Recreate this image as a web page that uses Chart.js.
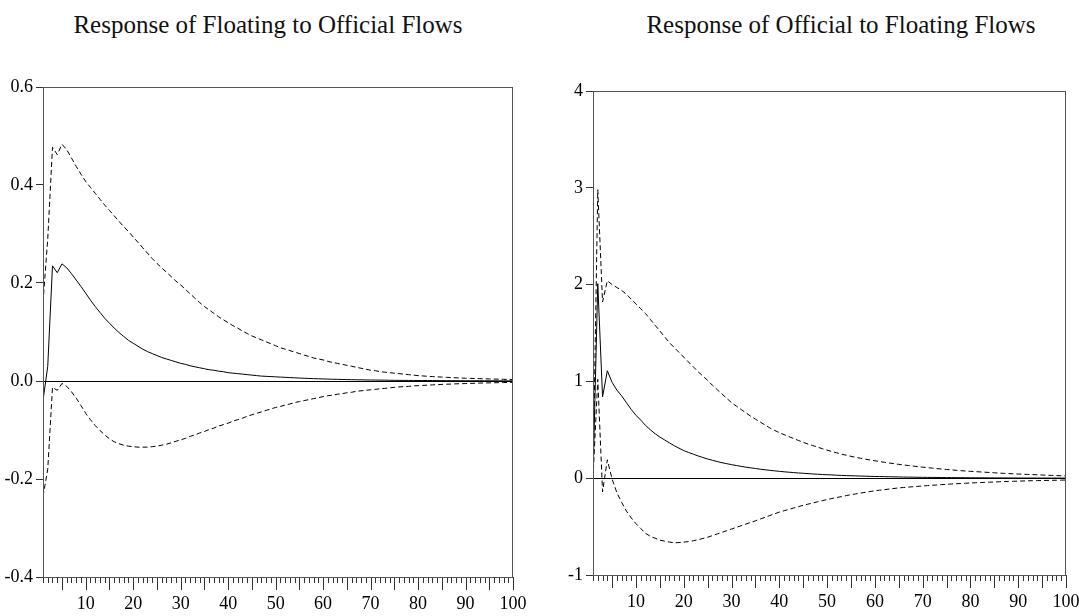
<!DOCTYPE html>
<html>
<head>
<meta charset="utf-8">
<script src="https://cdn.jsdelivr.net/npm/chart.js@4.4.1/dist/chart.umd.min.js"></script>
<style>
  html,body{margin:0;padding:0;background:#fff;}
  body{width:1079px;height:616px;position:relative;overflow:hidden;}
  canvas{position:absolute;top:0;}
  .ttl{position:absolute;top:12px;font-family:"Liberation Serif","Times New Roman",serif;font-size:25px;line-height:25px;
       color:#111;white-space:nowrap;transform:translateX(-50%);}
</style>
</head>
<body>
<div class="ttl" style="left:268px">Response of Floating to Official Flows</div>
<div class="ttl" style="left:841px">Response of Official to Floating Flows</div>
<canvas id="c1" width="540" height="616" style="left:0"></canvas>
<canvas id="c2" width="539" height="616" style="left:540px"></canvas>
<script>
// forecast horizon (periods)
const periods = [
  1,2,3,4,5,6,7,8,9,10,11,12,13,14,15,16,17,18,19,20,
  21,22,23,24,25,26,27,28,29,30,31,32,33,34,35,36,37,38,39,40,
  41,42,43,44,45,46,47,48,49,50,51,52,53,54,55,56,57,58,59,60,
  61,62,63,64,65,66,67,68,69,70,71,72,73,74,75,76,77,78,79,80,
  81,82,83,84,85,86,87,88,89,90,91,92,93,94,95,96,97,98,99,100];
const xLabels = [10,20,30,40,50,60,70,80,90,100];

// --- Response of Floating to Official Flows ---
const floatResp = [
  -0.040,0.030,0.235,0.221,0.239,0.231,0.219,0.206,0.193,0.179,
  0.165,0.152,0.140,0.128,0.118,0.108,0.099,0.091,0.083,0.077,
  0.071,0.065,0.060,0.056,0.052,0.048,0.045,0.042,0.039,0.036,
  0.034,0.031,0.029,0.027,0.025,0.023,0.022,0.020,0.019,0.017,
  0.016,0.015,0.014,0.013,0.012,0.011,0.010,0.0095,0.009,0.0085,
  0.008,0.0075,0.007,0.0065,0.006,0.0056,0.0052,0.0048,0.0045,0.0042,
  0.0039,0.0036,0.0034,0.0031,0.0029,0.0027,0.0025,0.0024,0.0022,0.0020,
  0.0019,0.0018,0.0017,0.0015,0.0014,0.0013,0.0012,0.0012,0.0011,0.0010,
  0.0010,0.0009,0.0009,0.0008,0.0008,0.0007,0.0007,0.0006,0.0006,0.0006,
  0.0005,0.0005,0.0005,0.0004,0.0004,0.0004,0.0003,0.0003,0.0003,0.0003];
const floatUpper = [
  0.160,0.290,0.477,0.462,0.483,0.472,0.455,0.438,0.422,0.407,
  0.395,0.383,0.371,0.359,0.348,0.337,0.326,0.315,0.305,0.294,
  0.283,0.272,0.261,0.250,0.240,0.231,0.222,0.213,0.204,0.196,
  0.187,0.178,0.169,0.160,0.152,0.145,0.138,0.131,0.125,0.119,
  0.113,0.108,0.102,0.097,0.092,0.088,0.084,0.080,0.076,0.072,
  0.068,0.065,0.062,0.059,0.056,0.053,0.050,0.047,0.045,0.043,
  0.040,0.038,0.036,0.034,0.032,0.030,0.028,0.026,0.024,0.022,
  0.021,0.019,0.018,0.017,0.016,0.015,0.014,0.013,0.012,0.011,
  0.0103,0.0096,0.009,0.0085,0.008,0.0075,0.0070,0.0065,0.006,0.0057,
  0.0054,0.0051,0.0048,0.0045,0.0042,0.0040,0.0037,0.0035,0.0033,0.0031];
const floatLower = [
  -0.236,-0.180,-0.013,-0.019,-0.005,-0.011,-0.022,-0.035,-0.050,-0.066,
  -0.079,-0.091,-0.101,-0.110,-0.118,-0.124,-0.128,-0.131,-0.133,-0.134,
  -0.135,-0.135,-0.135,-0.134,-0.133,-0.131,-0.129,-0.126,-0.123,-0.120,
  -0.117,-0.113,-0.110,-0.106,-0.103,-0.099,-0.096,-0.092,-0.089,-0.086,
  -0.082,-0.079,-0.076,-0.072,-0.069,-0.066,-0.063,-0.060,-0.057,-0.054,
  -0.052,-0.049,-0.047,-0.044,-0.042,-0.040,-0.038,-0.036,-0.034,-0.032,
  -0.030,-0.029,-0.027,-0.026,-0.024,-0.023,-0.021,-0.020,-0.019,-0.018,
  -0.017,-0.016,-0.015,-0.014,-0.013,-0.012,-0.0115,-0.011,-0.010,-0.0095,
  -0.009,-0.0085,-0.008,-0.0075,-0.007,-0.0066,-0.0062,-0.0058,-0.0055,-0.0052,
  -0.0049,-0.0046,-0.0043,-0.0040,-0.0038,-0.0036,-0.0034,-0.0032,-0.0030,-0.0028];

// --- Response of Official to Floating Flows ---
const offResp = [
  0,2.01,0.84,1.11,0.99,0.91,0.85,0.78,0.71,0.65,
  0.60,0.545,0.50,0.46,0.425,0.395,0.365,0.336,0.31,0.285,
  0.266,0.248,0.23,0.214,0.198,0.185,0.172,0.16,0.15,0.14,
  0.131,0.122,0.114,0.107,0.10,0.093,0.087,0.081,0.076,0.071,
  0.066,0.062,0.058,0.054,0.051,0.047,0.044,0.041,0.038,0.036,
  0.034,0.031,0.029,0.027,0.025,0.024,0.022,0.021,0.019,0.018,
  0.017,0.016,0.015,0.014,0.013,0.012,0.011,0.0105,0.0098,0.009,
  0.0085,0.008,0.0074,0.0069,0.0064,0.006,0.0056,0.0052,0.0049,0.0045,
  0.0042,0.004,0.0037,0.0034,0.0032,0.003,0.0028,0.0026,0.0024,0.0022,
  0.0021,0.002,0.0018,0.0017,0.0016,0.0015,0.0014,0.0013,0.0012,0.0011];
const offUpper = [
  0,2.98,1.82,2.04,2.00,1.97,1.94,1.90,1.85,1.80,
  1.75,1.70,1.64,1.58,1.52,1.46,1.40,1.35,1.30,1.25,
  1.20,1.15,1.10,1.055,1.01,0.96,0.915,0.87,0.825,0.78,
  0.745,0.71,0.675,0.64,0.61,0.58,0.55,0.52,0.495,0.47,
  0.45,0.43,0.41,0.39,0.37,0.353,0.337,0.321,0.305,0.29,
  0.276,0.262,0.249,0.237,0.226,0.216,0.206,0.197,0.188,0.18,
  0.172,0.164,0.157,0.15,0.143,0.137,0.131,0.125,0.119,0.114,
  0.109,0.104,0.099,0.095,0.09,0.086,0.082,0.078,0.074,0.071,
  0.068,0.065,0.062,0.059,0.056,0.053,0.05,0.048,0.045,0.043,
  0.041,0.039,0.037,0.035,0.033,0.031,0.029,0.027,0.025,0.024];
const offLower = [
  0,1.02,-0.14,0.19,-0.01,-0.15,-0.25,-0.34,-0.41,-0.47,
  -0.52,-0.57,-0.60,-0.62,-0.64,-0.65,-0.66,-0.667,-0.665,-0.66,
  -0.655,-0.646,-0.635,-0.623,-0.61,-0.593,-0.576,-0.559,-0.542,-0.525,
  -0.508,-0.491,-0.474,-0.457,-0.44,-0.422,-0.404,-0.386,-0.368,-0.35,
  -0.336,-0.322,-0.308,-0.294,-0.28,-0.268,-0.256,-0.244,-0.232,-0.22,
  -0.21,-0.2,-0.19,-0.18,-0.17,-0.162,-0.154,-0.146,-0.138,-0.13,
  -0.124,-0.118,-0.112,-0.106,-0.1,-0.096,-0.092,-0.088,-0.084,-0.08,
  -0.077,-0.073,-0.07,-0.066,-0.063,-0.06,-0.057,-0.055,-0.052,-0.05,
  -0.047,-0.045,-0.043,-0.041,-0.039,-0.037,-0.035,-0.033,-0.032,-0.03,
  -0.029,-0.027,-0.026,-0.025,-0.024,-0.023,-0.022,-0.021,-0.02,-0.019];

const FONT = { family:'"Liberation Serif","Times New Roman",serif', size:18 };

// minor ticks every period, longer ones every 5, plus the plot frame
const frame = {
  id:'frame',
  afterDraw(c) {
    const { ctx, chartArea:a, scales:{ x } } = c;
    ctx.save();
    ctx.strokeStyle = '#333'; ctx.lineWidth = 1;
    ctx.beginPath();
    periods.forEach(p => {
      const px = Math.round(x.getPixelForValue(p)) + 0.5;
      ctx.moveTo(px, a.bottom); ctx.lineTo(px, a.bottom + (p % 5 === 0 ? 13 : 6));
    });
    ctx.stroke();
    ctx.strokeStyle = '#555';
    ctx.strokeRect(a.left + 0.5, a.top + 0.5, a.right - a.left - 1, a.bottom - a.top);
    ctx.restore();
  }
};

const pts = ys => periods.map((p, i) => ({ x:p, y:ys[i] }));

function mk(id, resp, up, lo, yMin, yMax, step, fmt, pad, yW) {
  const line = (d, dash) => ({ data:pts(d), borderColor:'#000', borderWidth:1, borderDash:dash,
    pointRadius:0, tension:0, fill:false });
  return new Chart(document.getElementById(id), {
    type:'line',
    data:{ datasets:[ line(resp, []), line(up, [5,3]), line(lo, [5,3]) ] },
    options:{
      responsive:false, animation:false, devicePixelRatio:1,
      layout:{ padding:{ top:pad.top, right:pad.right, left:0, bottom:0 } },
      plugins:{ legend:{ display:false }, tooltip:{ enabled:false } },
      scales:{
        x:{ type:'linear', min:1, max:100,
            afterBuildTicks:s => { s.ticks = xLabels.map(v => ({ value:v })); },
            afterFit:s => { s.height = 616 - pad.top - pad.h; s.paddingLeft = 0; s.paddingRight = 0; },
            grid:{ display:false, drawTicks:false }, border:{ display:false },
            ticks:{ color:'#000', font:FONT, padding:16, maxRotation:0, autoSkip:false } },
        y:{ min:yMin, max:yMax,
            afterFit:s => { s.width = yW; s.paddingTop = 0; s.paddingBottom = 0; },
            grid:{ color:c => Math.abs(c.tick.value) < 1e-9 ? '#000' : 'rgba(0,0,0,0)',
                   tickColor:'#333', tickLength:7, lineWidth:1 },
            border:{ display:false },
            ticks:{ stepSize:step, color:'#000', font:FONT, padding:3, callback:fmt } }
      }
    },
    plugins:[frame]
  });
}

// pad.h = plot height; the x axis takes what is left below it
mk('c1', floatResp, floatUpper, floatLower, -0.4, 0.6, 0.2, v => v.toFixed(1),
   { top:87, right:27, h:490 }, 43);
mk('c2', offResp, offUpper, offLower, -1, 4, 1, v => String(Math.round(v)),
   { top:91, right:13, h:484 }, 53);
</script>
</body>
</html>
